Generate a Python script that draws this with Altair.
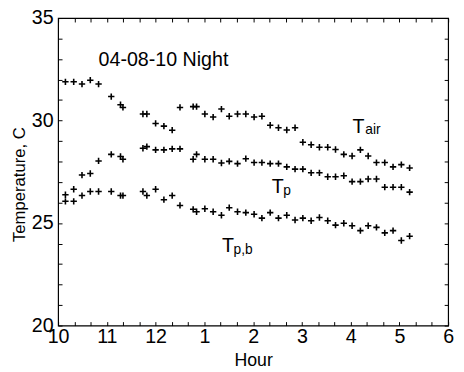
import altair as alt
import pandas as pd

# sample times (hours, 24h clock) shared by the three series
hours = [10.15, 10.32, 10.49, 10.66, 10.83, 11.09, 11.28, 11.33, 11.74, 11.82,
         12.0, 12.17, 12.34, 12.5, 12.77, 12.84, 13.01, 13.18, 13.35, 13.51,
         13.68, 13.85, 14.02, 14.18, 14.35, 14.52, 14.69, 14.86, 15.02, 15.19,
         15.36, 15.53, 15.69, 15.86, 16.03, 16.2, 16.36, 16.53, 16.7, 16.87,
         17.04, 17.21]

t_air = [31.89, 31.89, 31.78, 31.97, 31.78, 31.17, 30.77, 30.64, 30.32, 30.32,
         29.86, 29.73, 29.53, 30.64, 30.68, 30.68, 30.32, 30.17, 30.56, 30.21,
         30.32, 30.32, 30.17, 30.21, 29.77, 29.65, 29.54, 29.65, 28.94, 28.82,
         28.70, 28.70, 28.59, 28.35, 28.27, 28.57, 28.27, 27.95, 27.95, 27.74,
         27.85, 27.69]

t_p = [26.38, 26.65, 27.34, 27.42, 28.03, 28.35, 28.25, 28.11, 28.65, 28.73,
       28.57, 28.57, 28.62, 28.62, 28.11, 28.35, 28.11, 28.11, 27.93, 28.01,
       27.90, 28.14, 27.95, 27.95, 27.90, 27.90, 27.74, 27.63, 27.63, 27.45,
       27.45, 27.26, 27.26, 27.31, 27.02, 27.02, 27.15, 27.15, 26.75, 26.75,
       26.75, 26.51]

t_pb = [26.06, 26.06, 26.34, 26.54, 26.54, 26.54, 26.34, 26.34, 26.54, 26.34,
        26.65, 26.14, 26.34, 25.86, 25.67, 25.55, 25.70, 25.55, 25.38, 25.75,
        25.55, 25.51, 25.43, 25.24, 25.51, 25.24, 25.38, 25.15, 25.24, 25.11,
        25.27, 25.11, 24.90, 24.99, 24.87, 24.63, 24.87, 24.79, 24.52, 24.63,
        24.15, 24.36]

# in-plot text (anchored in data units)
main_text = ["04-08-10 Night", "T", "T", "T"]
main_hour = [10.83, 16.04, 14.38, 13.36]
main_temp = [32.65, 29.41, 26.46, 23.58]
main_size = [20, 20, 20, 20]

sub_text = ["air", "p", "p,b"]
sub_hour = [16.30, 14.62, 13.60]
sub_temp = [29.33, 26.38, 23.50]

n = len(hours)
df = pd.DataFrame({
    "hour": hours * 3,
    "temp": t_air + t_p + t_pb,
    "series": ["Tair"] * n + ["Tp"] * n + ["Tpb"] * n,
})
df_main = pd.DataFrame({"hour": main_hour, "temp": main_temp, "text": main_text, "size": main_size})
df_sub = pd.DataFrame({"hour": sub_hour, "temp": sub_temp, "text": sub_text})

FONT = "Liberation Sans"
xscale = alt.Scale(domain=[10, 18], nice=False, zero=False)
yscale = alt.Scale(domain=[20, 35], nice=False, zero=False)
xticks = [round(10 + i / 3, 4) for i in range(25)]
yticks = list(range(20, 36))

x_lab = ("abs(datum.value - round(datum.value)) < 0.01 ? "
         "(round(datum.value) > 12 ? round(datum.value) - 12 : round(datum.value)) + '' : ''")
y_lab = "datum.value % 5 == 0 ? datum.value + '' : ''"

tick_common = dict(tickSize=4, offset=-4, domain=False, grid=False, tickColor="black",
                   tickWidth=1, labelFlush=False, labelOverlap=False)

plus = "M-1,0L1,0M0,-1L0,1"

points = alt.Chart(df).mark_point(
    shape=plus, filled=False, color="black", strokeWidth=1.6, size=42, opacity=1
).encode(
    x=alt.X("hour:Q", scale=xscale, axis=alt.Axis(
        orient="bottom", values=xticks, labelExpr=x_lab, title="Hour",
        labelFont=FONT, labelFontSize=20, labelColor="black", labelPadding=1,
        titleFont=FONT, titleFontSize=18, titleFontWeight="normal", titleColor="black",
        titleBaseline="alphabetic", titleY=45, **tick_common)),
    y=alt.Y("temp:Q", scale=yscale, axis=alt.Axis(
        orient="left", values=yticks, labelExpr=y_lab, title="Temperature, C",
        labelFont=FONT, labelFontSize=20, labelColor="black", labelPadding=5,
        titleFont=FONT, titleFontSize=17, titleFontWeight="normal", titleColor="black",
        titleAngle=270, titleAlign="center", titleBaseline="middle",
        titleX=-43, titleY=169, **tick_common)),
)

texts = alt.Chart(df_main).mark_text(
    align="left", baseline="alphabetic", font=FONT, color="black"
).encode(
    x=alt.X("hour:Q", scale=xscale, axis=alt.Axis(
        orient="top", values=xticks, labels=False, title=None, **tick_common)),
    y=alt.Y("temp:Q", scale=yscale, axis=alt.Axis(
        orient="right", values=yticks, labels=False, title=None, **tick_common)),
    text="text:N",
    size=alt.Size("size:Q", scale=None, legend=None),
)

subs = alt.Chart(df_sub).mark_text(
    align="left", baseline="alphabetic", font=FONT, color="black", fontSize=14
).encode(
    x=alt.X("hour:Q", scale=xscale, axis=None),
    y=alt.Y("temp:Q", scale=yscale, axis=None),
    text="text:N",
)

chart = alt.layer(points, texts, subs).resolve_axis(
    x="independent", y="independent"
).properties(
    width=397, height=313,
    autosize=alt.AutoSizeParams(type="none"),
    padding={"left": 51, "top": 7, "right": 8, "bottom": 42},
    background="white",
).configure_view(stroke="black", strokeWidth=1.2)

chart.save("out.html", embed_options={"renderer": "svg", "actions": False})
